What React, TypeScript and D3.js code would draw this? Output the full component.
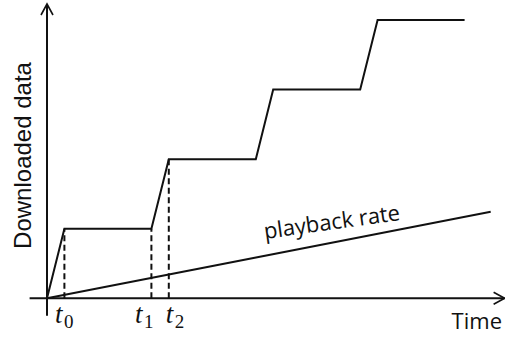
import React, { useEffect, useRef } from 'react';
import * as d3 from 'd3';

// stepwise download curve (time units, data units)
const downloadTime = [0, 1, 6, 7, 12, 13, 18, 19, 24];
const downloadData = [0, 1, 1, 2, 2, 3, 3, 4, 4];

// playback consumption line
const playbackTime = [0, 25.5];
const playbackData = [0, 1.245];

// marked instants t0, t1, t2
const markerTimes = [1, 6, 7];
const markerLevels = [1, 1, 2];
const markerSubs = ['0', '1', '2'];
const markerShift = [-9.5, -16.5, -3];

const App = () => {
  const ref = useRef<SVGSVGElement>(null);

  useEffect(() => {
    document.body.style.margin = '0';
    const svg = d3.select(ref.current);
    svg.selectAll('*').remove();

    const ink = '#111';
    const x = d3.scaleLinear().domain([0, 24]).range([47, 464.6]);
    const y = d3.scaleLinear().domain([0, 4]).range([298.3, 20]);

    const line = d3.line<[number, number]>()
      .x(d => x(d[0]))
      .y(d => y(d[1]));

    // axes with open arrow heads
    const x0 = x(-1), x1 = x(26.3);
    const y0 = y(-0.25), y1 = y(4.23);
    const axes = svg.append('g')
      .attr('fill', 'none')
      .attr('stroke', ink)
      .attr('stroke-width', 2);
    axes.append('line')
      .attr('x1', x0).attr('x2', x1)
      .attr('y1', y(0)).attr('y2', y(0));
    axes.append('path')
      .attr('d', `M${x1 - 11},${y(0) - 6}L${x1},${y(0)}L${x1 - 11},${y(0) + 6}`)
      .attr('stroke-width', 1.6);
    axes.append('line')
      .attr('x1', x(0)).attr('x2', x(0))
      .attr('y1', y0).attr('y2', y1);
    axes.append('path')
      .attr('d', `M${x(0) - 6},${y1 + 11}L${x(0)},${y1}L${x(0) + 6},${y1 + 11}`)
      .attr('stroke-width', 1.6);

    // dashed guides
    svg.append('g')
      .selectAll('line')
      .data(markerTimes)
      .join('line')
        .attr('x1', d => x(d))
        .attr('x2', d => x(d))
        .attr('y1', y(0))
        .attr('y2', (d, i) => y(markerLevels[i]))
        .attr('stroke', ink)
        .attr('stroke-width', 2)
        .attr('stroke-dasharray', '6,3.5');

    // download curve
    svg.append('path')
      .datum(downloadTime.map((t, i) => [t, downloadData[i]] as [number, number]))
      .attr('d', line)
      .attr('fill', 'none')
      .attr('stroke', ink)
      .attr('stroke-width', 2)
      .attr('stroke-linejoin', 'miter');

    // playback line
    svg.append('path')
      .datum(playbackTime.map((t, i) => [t, playbackData[i]] as [number, number]))
      .attr('d', line)
      .attr('fill', 'none')
      .attr('stroke', ink)
      .attr('stroke-width', 2);

    // t labels
    const tl = svg.append('g')
      .selectAll('text')
      .data(markerTimes)
      .join('text')
        .attr('x', (d, i) => x(d) + markerShift[i])
        .attr('y', 323)
        .attr('fill', ink)
        .style('font-family', '"Liberation Serif", serif');
    tl.append('tspan')
      .attr('font-style', 'italic')
      .attr('font-size', 27)
      .text('t');
    tl.append('tspan')
      .attr('font-size', 19)
      .attr('dx', 1.5)
      .attr('dy', 5)
      .text((d, i) => markerSubs[i]);

    // axis titles
    svg.append('text')
      .attr('transform', `translate(31,155.5) rotate(-90)`)
      .attr('text-anchor', 'middle')
      .attr('fill', ink)
      .style('font-family', '"Liberation Sans", Arial, sans-serif')
      .style('font-size', '24px')
      .text('Downloaded data');

    svg.append('text')
      .attr('x', 502)
      .attr('y', 329)
      .attr('text-anchor', 'end')
      .attr('fill', ink)
      .style('font-family', '"Open Sans", sans-serif')
      .style('font-size', '22px')
      .text('Time');

    svg.append('text')
      .attr('transform', `translate(265,239) rotate(-8)`)
      .attr('fill', ink)
      .style('font-family', '"Open Sans", sans-serif')
      .style('font-size', '22px')
      .text('playback rate');
  }, []);

  return (
    <svg ref={ref} width={505} height={338} style={{ display: 'block' }}></svg>
  );
};

export default App;
